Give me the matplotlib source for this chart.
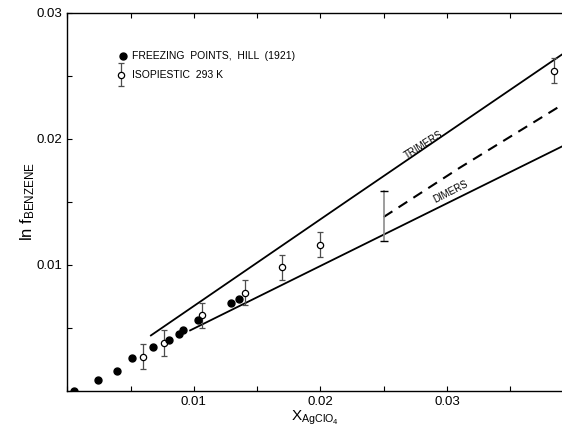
import matplotlib
matplotlib.use('Agg')
import matplotlib.pyplot as plt

plt.rcParams['font.family'] = ['Liberation Sans', 'DejaVu Sans']
plt.rcParams['mathtext.default'] = 'regular'

# freezing points, Hill (1921)
fp_x = [0.0005, 0.0024, 0.0039, 0.0051, 0.0068, 0.0080, 0.0088, 0.0091, 0.0103, 0.0129, 0.0136]
fp_y = [0.0000, 0.0009, 0.0016, 0.0026, 0.0035, 0.0040, 0.0045, 0.0048, 0.0056, 0.0070, 0.0073]

# isopiestic 293 K
iso_x = [0.0060, 0.0076, 0.0106, 0.0140, 0.0170, 0.0200, 0.0385]
iso_y = [0.0027, 0.0038, 0.0060, 0.0078, 0.0098, 0.0116, 0.0254]
iso_err = [0.0010, 0.0010, 0.0010, 0.0010, 0.0010, 0.0010, 0.0010]

# wide bar at x = 0.025
big_x = 0.025
big_lo = 0.0119
big_hi = 0.0159

# model curves
tri_x = [0.0066, 0.0223, 0.0391]
tri_y = [0.0044, 0.0152, 0.0267]
dim_x = [0.0097, 0.0250, 0.0391]
dim_y = [0.0048, 0.0124, 0.0194]
dash_x = [0.0250, 0.0310, 0.0391]
dash_y = [0.0138, 0.0177, 0.0227]

fig = plt.figure(figsize=(5.62, 4.30), dpi=100)
ax = fig.add_axes([0.120, 0.091, 0.880, 0.879])

ax.plot(tri_x, tri_y, color='black', lw=1.3)
ax.plot(dim_x, dim_y, color='black', lw=1.3)
ax.plot(dash_x, dash_y, color='black', lw=1.5, dashes=(5, 3.5))

ax.errorbar(iso_x, iso_y, yerr=iso_err, fmt='o', mfc='white', mec='black',
            ms=4.5, mew=0.9, ecolor='0.3', elinewidth=0.9, capsize=2.5, capthick=0.9, zorder=4)
ax.plot([big_x, big_x], [big_lo, big_hi], color='0.55', lw=1.2)
ax.plot([big_x], [big_lo], marker='_', color='black', ms=6, mew=1)
ax.plot([big_x], [big_hi], marker='_', color='black', ms=6, mew=1)
ax.plot(fp_x, fp_y, 'o', color='black', ms=5, zorder=5)

ax.text(0.0282, 0.0195, 'TRIMERS', rotation=32, fontsize=7, ha='center', va='center')
ax.text(0.0303, 0.0158, 'DIMERS', rotation=27, fontsize=7, ha='center', va='center')

# legend drawn by hand
ax.plot([0.0044], [0.0266], 'o', color='black', ms=5)
ax.errorbar([0.0042], [0.0251], yerr=[0.0009], fmt='o', mfc='white', mec='black',
            ms=4.5, mew=0.9, ecolor='0.3', elinewidth=0.9, capsize=2.5, capthick=0.9)
ax.text(0.0051, 0.0266, 'FREEZING  POINTS,  HILL  (1921)', fontsize=7.5, va='center')
ax.text(0.0051, 0.0251, 'ISOPIESTIC  293 K', fontsize=7.5, va='center')

ax.set_xlim(0, 0.0391)
ax.set_ylim(0, 0.030)
ticks = [0.0, 0.005, 0.01, 0.015, 0.02, 0.025, 0.03, 0.035]
labels = ['', '', '0.01', '', '0.02', '', '0.03', '']
ax.set_xticks(ticks)
ax.set_xticklabels(labels)
ax.set_yticks(ticks[:7])
ax.set_yticklabels(labels[:7])
ax.tick_params(direction='in', length=3.5, width=0.8, labelsize=9.5, top=True)
ax.spines['right'].set_visible(False)
for s in ['left', 'bottom', 'top']:
    ax.spines[s].set_linewidth(1.0)

ax.set_xlabel(r'X$_{AgClO_4}$', fontsize=11, labelpad=1)
ax.set_ylabel(r'ln f$_{BENZENE}$', fontsize=12, labelpad=0)

fig.savefig('out.png', dpi=100)
